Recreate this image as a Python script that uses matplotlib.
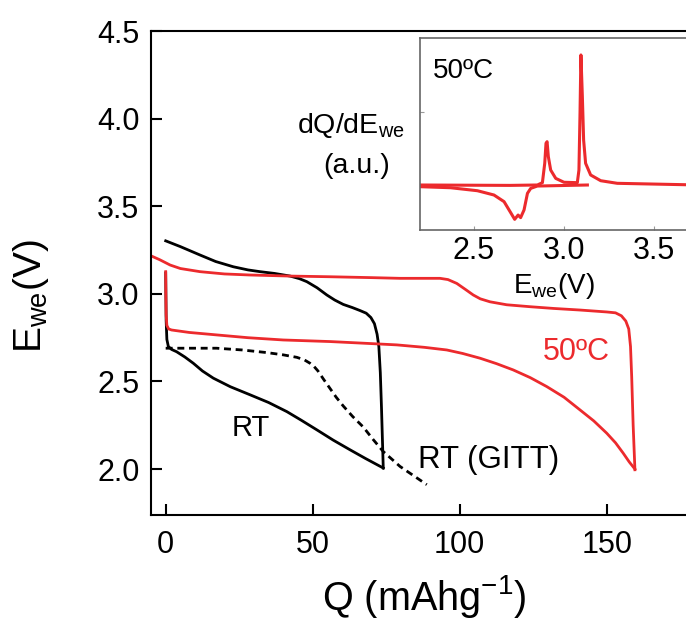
import numpy as np
import matplotlib
matplotlib.use('Agg')
import matplotlib.pyplot as plt

plt.rcParams['font.family'] = ['Liberation Sans', 'DejaVu Sans']
plt.rcParams['mathtext.fontset'] = 'custom'
plt.rcParams['mathtext.rm'] = 'Liberation Sans'
plt.rcParams['mathtext.it'] = 'Liberation Sans:italic'

RED = '#ec2a2d'

# RT galvanostatic charge (black, upper branch)
rt_chg_q = [0.0, 5.0, 11.7, 17.0, 23.0, 28.0, 32.1, 37.0, 42.3, 45.5, 48.0, 51.5, 54.8, 57.5, 60.4,
            63.5, 66.1, 68.2, 69.8, 71.0, 71.9, 72.5, 73.0, 73.4, 74.0]
rt_chg_e = [3.303, 3.270, 3.222, 3.185, 3.155, 3.137, 3.127, 3.117, 3.102, 3.087, 3.070, 3.035, 2.994, 2.965, 2.940,
            2.922, 2.905, 2.890, 2.865, 2.830, 2.770, 2.700, 2.550, 2.350, 2.006]

# RT discharge (black, lower branch)
rt_dis_q = [0.0, 0.15, 0.4, 0.9, 2.0, 3.7, 6.5, 9.4, 12.5, 16.2, 22.0, 28.7, 35.0, 41.2, 46.0, 51.4,
            57.0, 62.7, 68.0, 74.0]
rt_dis_e = [3.120, 2.850, 2.740, 2.700, 2.683, 2.670, 2.640, 2.604, 2.560, 2.519, 2.470, 2.424, 2.380, 2.328, 2.280, 2.224,
            2.165, 2.110, 2.060, 2.006]

# RT GITT (dashed)
gitt_q = [0.0, 10.0, 17.3, 26.0, 34.4, 40.0, 44.6, 47.2, 49.1, 50.5, 51.8, 53.6, 55.9, 58.0, 60.4,
          63.6, 67.2, 70.5, 74.0, 79.7, 88.8]
gitt_e = [2.690, 2.690, 2.690, 2.680, 2.665, 2.652, 2.638, 2.623, 2.604, 2.585, 2.560, 2.515, 2.460, 2.410, 2.360,
          2.300, 2.240, 2.170, 2.100, 2.015, 1.911]

# 50 C charge (red, upper)
hot_chg_q = [-6.0, -2.0, 1.5, 5.0, 11.7, 20.0, 28.7, 42.0, 55.9, 70.0, 79.7, 93.3, 96.0, 99.0, 102.0, 104.6,
             107.0, 110.3, 116.0, 123.9, 132.0, 140.9, 150.0, 153.0, 155.0, 156.5, 157.5, 158.1, 158.5, 159.0, 159.6]
hot_chg_e = [3.225, 3.195, 3.165, 3.145, 3.127, 3.114, 3.108, 3.102, 3.098, 3.093, 3.089, 3.089, 3.082, 3.060, 3.025, 2.994,
             2.972, 2.955, 2.938, 2.927, 2.917, 2.908, 2.897, 2.892, 2.875, 2.845, 2.800, 2.700, 2.528, 2.250, 1.996]

# 50 C discharge (red, lower)
hot_dis_q = [0.0, 0.05, 0.15, 0.4, 1.0, 2.0, 8.0, 17.3, 28.0, 40.0, 55.9, 68.0, 78.6, 88.0, 95.6, 101.0,
             106.9, 112.5, 118.2, 124.0, 129.6, 135.5, 140.9, 145.6, 150.0, 153.0, 155.6, 157.7, 159.6]
hot_dis_e = [3.127, 3.000, 2.880, 2.820, 2.800, 2.794, 2.780, 2.766, 2.750, 2.737, 2.728, 2.718, 2.709, 2.695, 2.680, 2.660,
             2.633, 2.602, 2.566, 2.522, 2.471, 2.410, 2.338, 2.275, 2.205, 2.150, 2.091, 2.040, 2.000]

# inset dQ/dE, 50 C
dqde_chg_e = [2.20, 2.70, 2.852, 2.880, 2.893, 2.900, 2.906, 2.913, 2.926, 2.954, 3.000, 3.074, 3.083, 3.089, 3.094,
              3.102, 3.109, 3.120, 3.148, 3.204, 3.296, 3.680, 3.800]
dqde_chg_y = [0.0, -0.003, 0.0, 0.018, 0.167, 0.321, 0.333, 0.218, 0.115, 0.051, 0.021, 0.018, 0.115, 0.551, 1.0,
              0.679, 0.346, 0.167, 0.077, 0.033, 0.013, 0.002, 0.002]
dqde_dis_e = [3.13, 2.852, 2.815, 2.797, 2.778, 2.759, 2.745, 2.726, 2.704, 2.667, 2.611, 2.519, 2.37, 2.20]
dqde_dis_y = [0.0, -0.008, -0.026, -0.064, -0.192, -0.251, -0.231, -0.264, -0.213, -0.128, -0.077, -0.044, -0.021, -0.013]

W, H = 686, 621
fig = plt.figure(figsize=(W / 100, H / 100), dpi=100)

ax = fig.add_axes([150.7 / W, 1 - 514.6 / H, 544.2 / W, (514.6 - 31.2) / H])
lw = 2.0
ax.plot(rt_chg_q, rt_chg_e, color='black', lw=lw)
ax.plot(rt_dis_q, rt_dis_e, color='black', lw=lw)
ax.plot(gitt_q, gitt_e, color='black', lw=lw, linestyle=(0, (2.5, 1.7)))
ax.plot(hot_chg_q, hot_chg_e, color=RED, lw=lw)
ax.plot(hot_dis_q, hot_dis_e, color=RED, lw=lw)

ax.set_xlim(-5.1, 180)
ax.set_ylim(1.74, 4.5)
ax.set_xticks([0, 50, 100, 150])
ax.set_yticks([2.0, 2.5, 3.0, 3.5, 4.0, 4.5])
ax.tick_params(direction='in', length=8, width=1.5, labelsize=22)
ax.tick_params(axis='y', pad=8)
ax.tick_params(axis='x', pad=11)
for s in ax.spines.values():
    s.set_linewidth(1.5)

ax.text(22.4, 2.186, 'RT', fontsize=21, ha='left', va='baseline')
ax.text(85.8, 2.007, 'RT (GITT)', fontsize=22.5, ha='left', va='baseline')
ax.text(128.4, 2.623, '50\u00baC', fontsize=22, color=RED, ha='left', va='baseline')

fig.text(31 / W, 1 - 296 / H, r'E$_{\mathrm{we}}$(V)', fontsize=28, rotation=90, ha='center', va='center')
fig.text(424 / W, 1 - 610 / H, r'Q (mAhg$^{\mathrm{-1}}$)', fontsize=28.5, ha='center', va='baseline')

# inset
axi = fig.add_axes([420 / W, 1 - 230 / H, 288 / W, (230 - 38.3) / H])
axi.plot(dqde_dis_e, dqde_dis_y, color=RED, lw=2.2)
axi.plot(dqde_chg_e, dqde_chg_y, color=RED, lw=2.2)
axi.set_xlim(2.2, 3.8)
axi.set_ylim(-0.346, 1.128)
axi.set_xticks([2.5, 3.0, 3.5])
axi.set_yticks([0.564])
axi.set_yticklabels([])
axi.tick_params(direction='in', length=3, width=0.8, color='#999999', labelsize=22, pad=4)
for s in axi.spines.values():
    s.set_linewidth(1.2)
    s.set_color('#666666')
axi.text(2.269, 0.821, '50\u00baC', fontsize=20, ha='left', va='baseline')

fig.text(554 / W, 1 - 293.3 / H, r'E$_{\mathrm{we}}$(V)', fontsize=20, ha='center', va='baseline')
fig.text(350.7 / W, 1 - 133.3 / H, r'dQ/dE$_{\mathrm{we}}$', fontsize=20.5, ha='center', va='baseline')
fig.text(356.7 / W, 1 - 173.3 / H, '(a.u.)', fontsize=20.5, ha='center', va='baseline')

fig.savefig('out.png', dpi=100)
